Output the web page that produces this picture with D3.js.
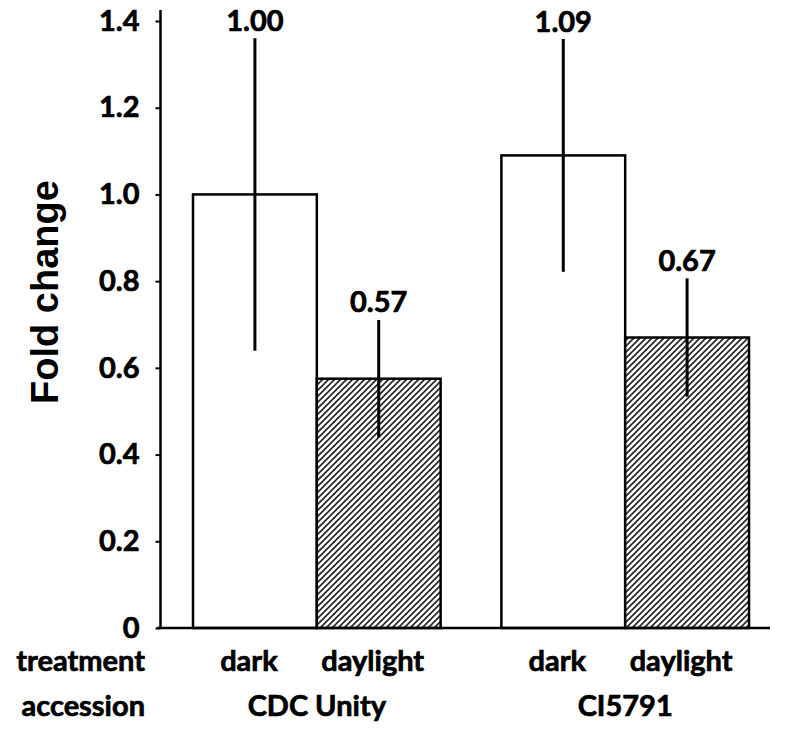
<!DOCTYPE html>
<html>
<head>
<meta charset="utf-8">
<script src="https://cdn.jsdelivr.net/npm/d3@7"></script>
<style>
  html, body { margin: 0; padding: 0; background: #fff; }
  svg { display: block; }
  .lbl { font-family: Lato, 'Open Sans', sans-serif; font-weight: 700; font-size: 29px; fill: #000; stroke: #000; stroke-width: 0.7px; }
</style>
</head>
<body>
<svg id="chart" width="787" height="732"></svg>
<script>
const accessions = ["CDC Unity", "CI5791"];
const treatments = ["dark", "daylight"];
const foldChange = [1.00, 0.575, 1.09, 0.67];
const errors = [0.357, 0.132, 0.265, 0.133];
const valueLabels = ["1.00", "0.57", "1.09", "0.67"];
const yTicks = [0, 0.2, 0.4, 0.6, 0.8, 1.0, 1.2, 1.4];

const rows = [];
accessions.forEach((a, i) => treatments.forEach((t, j) => {
  const k = i * treatments.length + j;
  rows.push({ accession: a, treatment: t, value: foldChange[k], err: errors[k], label: valueLabels[k] });
}));

const svg = d3.select("#chart");
const axisX = 160.5;
const y = d3.scaleLinear().domain([0, 1.4]).range([628, 21]);
const xGroup = d3.scaleBand().domain(accessions).range([193, 749]).paddingInner(0.197).paddingOuter(0);
const xInner = d3.scaleBand().domain(treatments).range([0, xGroup.bandwidth()]).padding(0);

const defs = svg.append("defs");
const pat = defs.append("pattern").attr("id", "hatch").attr("patternUnits", "userSpaceOnUse")
  .attr("width", 6).attr("height", 6);
pat.append("rect").attr("width", 6).attr("height", 6).attr("fill", "#fff");
pat.append("path").attr("d", "M-1,1 l2,-2 M0,6 l6,-6 M5,7 l2,-2")
  .attr("stroke", "#222").attr("stroke-width", 1.6);

// y axis
const yAxis = d3.axisLeft(y).tickValues(yTicks).tickSize(5).tickPadding(16)
  .tickFormat(d => d === 0 ? "0" : d3.format(".1f")(d));
const gy = svg.append("g").attr("transform", `translate(${axisX},0)`).call(yAxis);
gy.select(".domain").remove();
gy.attr("font-family", null).attr("font-size", null);
gy.selectAll(".tick line").attr("stroke", "#000").attr("stroke-width", 2);
gy.selectAll(".tick text").attr("class", "lbl").attr("fill", null);

// bars
const barX = d => xGroup(d.accession) + xInner(d.treatment);
svg.append("g").selectAll("rect").data(rows).join("rect")
  .attr("x", barX)
  .attr("y", d => y(d.value))
  .attr("width", xInner.bandwidth())
  .attr("height", d => y(0) - y(d.value))
  .attr("fill", d => d.treatment === "dark" ? "#fff" : "url(#hatch)")
  .attr("stroke", "#000").attr("stroke-width", 2.5);

// error bars
svg.append("g").selectAll("line").data(rows).join("line")
  .attr("x1", d => barX(d) + xInner.bandwidth() / 2)
  .attr("x2", d => barX(d) + xInner.bandwidth() / 2)
  .attr("y1", d => y(d.value + d.err))
  .attr("y2", d => y(d.value - d.err))
  .attr("stroke", "#000").attr("stroke-width", 3).attr("stroke-linecap", "square");

// value labels
svg.append("g").selectAll("text").data(rows).join("text")
  .attr("class", "lbl")
  .attr("x", d => barX(d) + xInner.bandwidth() / 2)
  .attr("y", d => y(d.value + d.err) - 9)
  .attr("text-anchor", "middle")
  .text(d => d.label);

// axis lines
svg.append("line").attr("x1", axisX).attr("x2", axisX).attr("y1", y(0)).attr("y2", 10)
  .attr("stroke", "#000").attr("stroke-width", 2.5);
svg.append("line").attr("x1", 157).attr("x2", 770).attr("y1", y(0)).attr("y2", y(0))
  .attr("stroke", "#000").attr("stroke-width", 2.5);

// y title
svg.append("text")
  .attr("transform", `translate(58,292) rotate(-90)`)
  .attr("text-anchor", "middle")
  .attr("font-family", "'Liberation Sans', Arial, sans-serif").attr("font-weight", 700)
  .attr("font-size", 38).text("Fold change");

// treatment row
svg.append("text").attr("class", "lbl").attr("x", 145).attr("y", 671).attr("text-anchor", "end").text("treatment");
svg.append("g").selectAll("text").data(rows).join("text")
  .attr("class", "lbl")
  .attr("x", d => barX(d) + xInner.bandwidth() / 2 - 6)
  .attr("y", 671).attr("text-anchor", "middle")
  .text(d => d.treatment);

// accession row
svg.append("text").attr("class", "lbl").attr("x", 145).attr("y", 716).attr("text-anchor", "end").text("accession");
svg.append("g").selectAll("text").data(accessions).join("text")
  .attr("class", "lbl")
  .attr("x", d => xGroup(d) + xGroup.bandwidth() / 2)
  .attr("y", 716).attr("text-anchor", "middle")
  .text(d => d);
</script>
</body>
</html>
